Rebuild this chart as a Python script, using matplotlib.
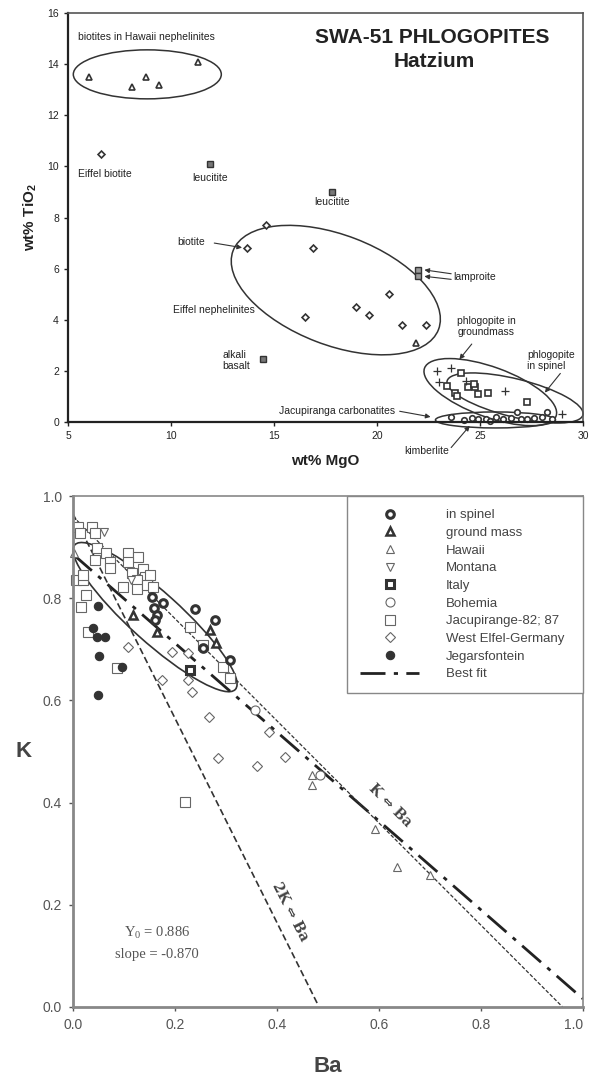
import numpy as np
import matplotlib
matplotlib.use('Agg')
import matplotlib.pyplot as plt
import matplotlib.transforms as mtransforms
from matplotlib.patches import Ellipse
from matplotlib.lines import Line2D

plt.rcParams['font.family'] = ['Liberation Sans', 'DejaVu Sans']
plt.rcParams['mathtext.fontset'] = 'custom'
plt.rcParams['mathtext.rm'] = 'Liberation Sans'
plt.rcParams['mathtext.bf'] = 'Liberation Sans:bold'

SERIF = ['Liberation Serif', 'DejaVu Serif']
DARK = '#333333'
GREY = '#666666'

# ---- top panel: wt% MgO vs wt% TiO2 ----
hawaii_mgo = [6.0, 8.1, 8.8, 9.4, 11.3]
hawaii_tio2 = [13.5, 13.1, 13.5, 13.2, 14.1]
eifel_biotite_mgo = [6.6]
eifel_biotite_tio2 = [10.5]
nephelinite_mgo = [13.7, 14.6, 16.9, 16.5, 19.0, 19.6, 20.6, 21.2, 22.4]
nephelinite_tio2 = [6.8, 7.7, 6.8, 4.1, 4.5, 4.2, 5.0, 3.8, 3.8]
nephelinite_tri_mgo = [21.9]
nephelinite_tri_tio2 = [3.1]
leucitite_mgo = [11.9, 17.8]
leucitite_tio2 = [10.1, 9.0]
lamproite_mgo = [22.0, 22.0]
lamproite_tio2 = [5.95, 5.7]
basalt_mgo = [14.45]
basalt_tio2 = [2.45]
groundmass_mgo = [24.1, 23.4, 23.8, 24.4, 24.75, 24.9, 25.4, 27.3, 23.9, 24.7]
groundmass_tio2 = [1.9, 1.4, 1.15, 1.35, 1.35, 1.1, 1.15, 0.8, 1.0, 1.5]
spinel_mgo = [22.9, 23.6, 23.0, 26.2, 29.0, 24.3]
spinel_tio2 = [2.0, 2.1, 1.55, 1.2, 0.3, 1.6]
carb_mgo = [23.6, 24.2, 24.6, 24.9, 25.3, 25.5, 25.8, 26.1, 26.5, 26.8, 27.0,
            27.3, 27.6, 28.0, 28.25, 28.5]
carb_tio2 = [0.2, 0.08, 0.15, 0.1, 0.12, 0.05, 0.2, 0.1, 0.15, 0.38, 0.12,
             0.1, 0.15, 0.18, 0.38, 0.1]

# ---- bottom panel: Ba vs K ----
spinel_ba = [0.155, 0.159, 0.164, 0.161, 0.177, 0.239, 0.278, 0.255, 0.308]
spinel_k = [0.802, 0.781, 0.767, 0.757, 0.79, 0.779, 0.757, 0.702, 0.679]
gmass_ba = [0.118, 0.164, 0.269, 0.28]
gmass_k = [0.767, 0.734, 0.738, 0.712]
hawaii_ba = [0.002, 0.468, 0.468, 0.592, 0.635, 0.70]
hawaii_k = [0.889, 0.454, 0.434, 0.348, 0.274, 0.258]
montana_ba = [0.114, 0.06]
montana_k = [0.835, 0.93]
italy_ba = [0.229]
italy_k = [0.659]
bohemia_ba = [0.357, 0.484]
bohemia_k = [0.581, 0.454]
jacupirange_ba = [0.01, 0.037, 0.014, 0.043, 0.047, 0.065, 0.073, 0.073, 0.043,
                  0.006, 0.02, 0.02, 0.025, 0.016, 0.029, 0.108, 0.128, 0.108,
                  0.115, 0.138, 0.141, 0.151, 0.125, 0.099, 0.125, 0.145, 0.157,
                  0.23, 0.255, 0.294, 0.308, 0.086, 0.22]
jacupirange_k = [0.94, 0.94, 0.927, 0.927, 0.898, 0.889, 0.871, 0.86, 0.875,
                 0.836, 0.836, 0.845, 0.806, 0.783, 0.734, 0.889, 0.881, 0.871,
                 0.849, 0.857, 0.841, 0.845, 0.835, 0.822, 0.818, 0.826, 0.822,
                 0.744, 0.708, 0.665, 0.644, 0.663, 0.401]
eifel_ba = [0.108, 0.194, 0.226, 0.226, 0.174, 0.233, 0.267, 0.285, 0.361,
            0.416, 0.385]
eifel_k = [0.705, 0.695, 0.692, 0.64, 0.64, 0.617, 0.568, 0.487, 0.472,
           0.489, 0.538]
jegars_ba = [0.049, 0.039, 0.047, 0.063, 0.051, 0.049, 0.096]
jegars_k = [0.785, 0.742, 0.724, 0.724, 0.687, 0.61, 0.665]

fit_intercept, fit_slope = 0.886, -0.870
k_ba_intercept, k_ba_slope = 0.96, -1.0
two_k_intercept, two_k_slope = 0.965, -2.0


def px_ellipse(ax, xy, w, h, angle, lw=1.1):
    # ellipse sized in screen pixels (100 dpi) centred on a data point
    tr = ax.figure.dpi_scale_trans + mtransforms.ScaledTranslation(xy[0], xy[1], ax.transData)
    ax.add_patch(Ellipse((0, 0), w / 100, h / 100, angle=angle, transform=tr,
                         fill=False, ec=DARK, lw=lw, clip_on=False))


def arrow(ax, text_xy, tip_xy):
    ax.annotate('', xy=tip_xy, xytext=text_xy, annotation_clip=False,
                arrowprops=dict(arrowstyle='-|>', lw=0.8, color=DARK, mutation_scale=7,
                                shrinkA=0, shrinkB=0))


def label_top(ax, x, y, s, **kw):
    ax.text(x, y, s, fontsize=7.5, color='#222222', **kw)


fig = plt.figure(figsize=(5.9, 10.78), dpi=100)

# ================= top panel =================
ax1 = fig.add_axes([68 / 590, 1 - 422 / 1078, 515 / 590, 409 / 1078])
ax1.set_xlim(5, 30)
ax1.set_ylim(0, 16)
ax1.set_xticks(range(5, 31, 5))
ax1.set_yticks(range(0, 17, 2))
ax1.tick_params(direction='out', length=3, width=1, labelsize=7.5, colors='#222222')
for side in ['left', 'bottom']:
    ax1.spines[side].set_linewidth(1.6)
    ax1.spines[side].set_color('#222222')
for side in ['top', 'right']:
    ax1.spines[side].set_linewidth(1.2)
    ax1.spines[side].set_color('#555555')

mk = dict(ls='none', mfc='white', mec=DARK, mew=1.2, clip_on=False)
ax1.plot(hawaii_mgo, hawaii_tio2, marker='^', ms=4.5, **mk)
ax1.plot(eifel_biotite_mgo, eifel_biotite_tio2, marker='D', ms=3.5, **mk)
ax1.plot(nephelinite_mgo, nephelinite_tio2, marker='D', ms=3.5, **mk)
ax1.plot(nephelinite_tri_mgo, nephelinite_tri_tio2, marker='^', ms=4.5, **mk)
ax1.plot(leucitite_mgo, leucitite_tio2, ls='none', marker='s', ms=4.5, mfc='#777777', mec=DARK, mew=1)
ax1.plot(lamproite_mgo, lamproite_tio2, ls='none', marker='s', ms=4.5, mfc='#999999', mec=DARK, mew=1)
ax1.plot(basalt_mgo, basalt_tio2, ls='none', marker='s', ms=4.5, mfc='#777777', mec=DARK, mew=1)
ax1.plot(groundmass_mgo, groundmass_tio2, marker='s', ms=5, **mk)
ax1.plot(spinel_mgo, spinel_tio2, ls='none', marker='+', ms=6, mec=DARK, mew=0.9)
ax1.plot(carb_mgo, carb_tio2, marker='o', ms=4, **mk)

px_ellipse(ax1, (8.85, 13.6), 148, 49, 0)
px_ellipse(ax1, (18.0, 5.16), 220, 110, -21)
px_ellipse(ax1, (25.5, 1.17), 140, 50, -20)
px_ellipse(ax1, (26.7, 0.94), 140, 38, -14)
px_ellipse(ax1, (25.75, 0.08), 120, 16, 0)

ax1.text(22.7, 15.05, 'SWA-51 PHLOGOPITES', ha='center', va='center', fontsize=15,
         fontweight='bold', color='#222222')
ax1.text(22.8, 14.1, 'Hatzium', ha='center', va='center', fontsize=15,
         fontweight='bold', color='#222222')
label_top(ax1, 5.5, 15.05, 'biotites in Hawaii nephelinites', va='center')
label_top(ax1, 6.8, 9.7, 'Eiffel biotite', ha='center', va='center')
label_top(ax1, 11.9, 9.55, 'leucitite', ha='center', va='center')
label_top(ax1, 17.8, 8.6, 'leucitite', ha='center', va='center')
label_top(ax1, 11.0, 7.05, 'biotite', ha='center', va='center')
arrow(ax1, (12.1, 7.0), (13.45, 6.82))
label_top(ax1, 12.1, 4.38, 'Eiffel nephelinites', ha='center', va='center')
label_top(ax1, 12.5, 2.4, 'alkali\nbasalt', va='center', linespacing=1.1)
label_top(ax1, 23.7, 5.67, 'lamproite', va='center')
arrow(ax1, (23.6, 5.8), (22.3, 5.95))
arrow(ax1, (23.6, 5.58), (22.3, 5.7))
label_top(ax1, 23.9, 3.75, 'phlogopite in\ngroundmass', va='center', linespacing=1.1)
arrow(ax1, (24.6, 3.05), (24.0, 2.45))
label_top(ax1, 27.3, 2.4, 'phlogopite\nin spinel', va='center', linespacing=1.1)
arrow(ax1, (28.9, 1.9), (28.15, 1.15))
label_top(ax1, 20.9, 0.42, 'Jacupiranga carbonatites', ha='right', va='center')
arrow(ax1, (21.1, 0.42), (22.6, 0.2))
label_top(ax1, 22.4, -1.15, 'kimberlite', ha='center', va='center', clip_on=False)
arrow(ax1, (23.6, -1.0), (24.5, -0.15))

ax1.set_xlabel('wt% MgO', fontsize=11, fontweight='bold', labelpad=9, color='#222222')
ax1.set_ylabel('wt% TiO$_\\mathbf{2}$', fontsize=11, fontweight='bold', labelpad=6, color='#222222')

# ================= bottom panel =================
ax2 = fig.add_axes([73 / 590, 1 - 1007 / 1078, 510 / 590, 511 / 1078])
ax2.set_xlim(0, 1)
ax2.set_ylim(0, 1)
ax2.set_xticks(np.arange(0, 1.01, 0.2))
ax2.set_yticks(np.arange(0, 1.01, 0.2))
ax2.xaxis.set_major_formatter(matplotlib.ticker.FormatStrFormatter('%.1f'))
ax2.yaxis.set_major_formatter(matplotlib.ticker.FormatStrFormatter('%.1f'))
ax2.tick_params(direction='out', length=3, width=1, labelsize=10, colors='#555555', pad=5)
ax2.get_xticklabels()[-1].set_horizontalalignment('right')
for side in ['left', 'bottom']:
    ax2.spines[side].set_linewidth(2)
    ax2.spines[side].set_color('#888888')
for side in ['top', 'right']:
    ax2.spines[side].set_linewidth(1.2)
    ax2.spines[side].set_color('#888888')

ba_grid = np.linspace(0, 1, 201)
fit_k = fit_intercept + fit_slope * ba_grid
k_ba = k_ba_intercept + k_ba_slope * ba_grid
two_k = two_k_intercept + two_k_slope * ba_grid
ax2.plot(ba_grid, np.where(fit_k >= 0, fit_k, np.nan), color='#222222', lw=2,
         dashes=(9, 3, 1.5, 3))
ax2.plot(ba_grid, np.where(k_ba >= 0, k_ba, np.nan), color='#333333', lw=0.9,
         dashes=(3, 1.5))
ax2.plot(ba_grid, np.where(two_k >= 0, two_k, np.nan), color='#333333', lw=1.2,
         dashes=(4, 2))

px_ellipse(ax2, (0.161, 0.763), 216, 50, -42, lw=1.2)

styles = {
    'in spinel': dict(marker='o', ms=5.5, mfc='white', mec=DARK, mew=2.2),
    'ground mass': dict(marker='^', ms=5.5, mfc='white', mec=DARK, mew=1.8),
    'Hawaii': dict(marker='^', ms=6, mfc='white', mec=GREY, mew=0.8),
    'Montana': dict(marker='v', ms=6, mfc='white', mec=GREY, mew=0.8),
    'Italy': dict(marker='s', ms=5.5, mfc='white', mec=DARK, mew=2.2),
    'Bohemia': dict(marker='o', ms=6.5, mfc='white', mec=GREY, mew=0.8),
    'Jacupirange-82; 87': dict(marker='s', ms=6.5, mfc='white', mec=GREY, mew=0.8),
    'West Elfel-Germany': dict(marker='D', ms=5.5, mfc='white', mec=GREY, mew=0.8),
    'Jegarsfontein': dict(marker='o', ms=6, mfc=DARK, mec=DARK, mew=0.8),
}
series = [
    ('Jacupirange-82; 87', jacupirange_ba, jacupirange_k),
    ('West Elfel-Germany', eifel_ba, eifel_k),
    ('Bohemia', bohemia_ba, bohemia_k),
    ('Hawaii', hawaii_ba, hawaii_k),
    ('Montana', montana_ba, montana_k),
    ('Jegarsfontein', jegars_ba, jegars_k),
    ('Italy', italy_ba, italy_k),
    ('ground mass', gmass_ba, gmass_k),
    ('in spinel', spinel_ba, spinel_k),
]
for name, xs, ys in series:
    ax2.plot(xs, ys, ls='none', clip_on=False, **styles[name])

order = ['in spinel', 'ground mass', 'Hawaii', 'Montana', 'Italy', 'Bohemia',
         'Jacupirange-82; 87', 'West Elfel-Germany', 'Jegarsfontein']
handles = [Line2D([], [], ls='none', **styles[n]) for n in order]
handles.append(Line2D([], [], color='#222222', lw=2, dashes=(9, 3, 1.5, 3)))
labels = order + ['Best fit']
leg = ax2.legend(handles, labels, loc='upper left', bbox_to_anchor=(0.537, 1.0, 0.463, 0),
                 mode='expand', borderaxespad=0, fontsize=9.5, labelspacing=0.41,
                 borderpad=1.0, handlelength=4.5, handletextpad=2.0, fancybox=False,
                 framealpha=1, edgecolor='#888888', labelcolor='#444444')
leg.get_frame().set_linewidth(1.0)

ax2.text(0.165, 0.145, 'Y$_\\mathregular{0}$ = 0.886', ha='center', va='center',
         fontsize=10.5, family=SERIF, color='#555555')
ax2.text(0.165, 0.102, 'slope = -0.870', ha='center', va='center',
         fontsize=10.5, family=SERIF, color='#555555')
ax2.text(0.622, 0.395, 'K \u21d4 Ba', ha='center', va='center', rotation=-45,
         fontsize=10, fontweight='bold', family='DejaVu Serif', color='#444444')
ax2.text(0.425, 0.186, '2K \u21d4 Ba', ha='center', va='center', rotation=-63,
         fontsize=10, fontweight='bold', family='DejaVu Serif', color='#444444')

ax2.set_xlabel('Ba', fontsize=16, fontweight='bold', labelpad=17, color='#444444')
ax2.set_ylabel('K', fontsize=16, fontweight='bold', labelpad=14, color='#444444',
               rotation=0, va='center')

fig.savefig('out.png', dpi=100)
